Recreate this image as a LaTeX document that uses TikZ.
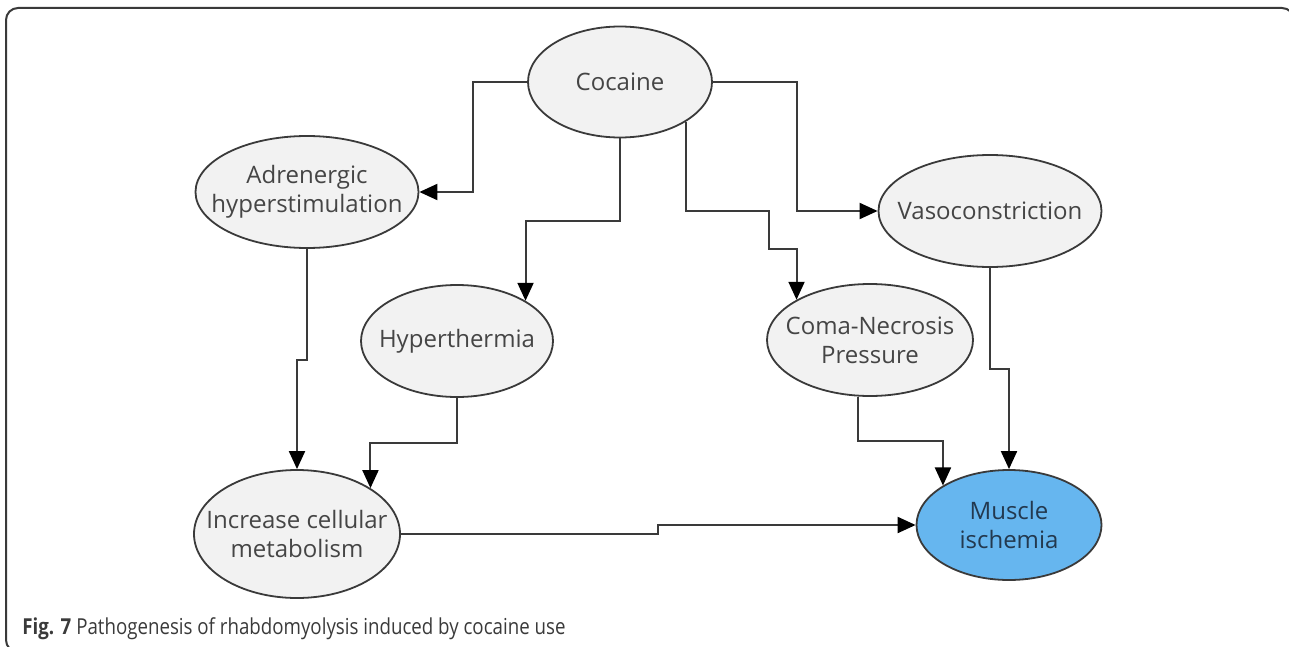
\documentclass[tikz,border=0pt]{standalone}
\usepackage{fontspec}
\setmainfont{Open Sans}
\newfontfamily\capfont[FakeStretch=0.85]{Open Sans}
\usetikzlibrary{arrows.meta,shapes.geometric}
\definecolor{ink}{HTML}{3A3A3A}
\definecolor{txt}{HTML}{454545}
\definecolor{pale}{HTML}{F2F2F2}
\definecolor{sky}{HTML}{66B6EF}
\definecolor{navy}{HTML}{23394F}
\newcommand{\midline}[1]{\makebox[0pt]{#1}}
\tikzset{
  oval/.style={ellipse,draw=ink,line width=.9pt,fill=pale,inner sep=0pt,
    text=txt,align=center,font=\fontsize{12}{14.5}\selectfont},
  link/.style={draw=ink,line width=1pt,-{Triangle[length=9pt,width=8pt,color=black]}}
}

\begin{document}
\begin{tikzpicture}[x=.5pt,y=-.5pt]
  \useasboundingbox (0,0) rectangle (1289,647);
  % frame, partly cut at the right and bottom edges
  \draw[ink,line width=1pt,rounded corners=6pt] (6,8) rectangle (1294,652);

  % causes and effects
  \node[oval,minimum width=92pt,minimum height=55.5pt] (coc) at (620,82) {\midline{Cocaine}};
  \node[oval,minimum width=111.5pt,minimum height=56pt] (adr) at (307,192) {\midline{Adrenergic}\\\midline{hyperstimulation}};
  \node[oval,minimum width=96pt,minimum height=56pt] (hyp) at (457,341) {\midline{Hyperthermia}};
  \node[oval,minimum width=103pt,minimum height=56pt] (coma) at (870,340) {\midline{Coma-Necrosis}\\\midline{Pressure}};
  \node[oval,minimum width=111.5pt,minimum height=56pt] (vaso) at (990,211) {\midline{Vasoconstriction}};
  \node[oval,minimum width=103pt,minimum height=64pt] (incr) at (297,534) {\midline{Increase cellular}\\\midline{metabolism}};
  \node[oval,fill=sky,text=navy,minimum width=92.5pt,minimum height=55pt] (mus) at (1009,525) {\midline{Muscle}\\\midline{ischemia}};

  % connectors from cocaine
  \draw[link] (coc.west) -- ++(-54,0) |- (adr.east);
  \draw[link] (coc.south) -- ++(0,83) -| (hyp.north east);
  \draw[link] (coc.south east) -- ++(0,89) -- ++(83,0) -- ++(0,38) -| (coma.north west);
  \draw[link] (coc.east) -- ++(84,0) |- (vaso.west);

  % connectors to the lower row
  \draw[link] (adr.south) -- ++(0,111) -| (incr.north);
  \draw[link] (hyp.south) -- ++(0,45) -| (incr.north east);
  \draw[link] ([xshift=-6pt]coma.south) -- ++(0,44) -| (mus.north west);
  \draw[link] (vaso.south) -- ++(0,101) -| (mus.north);
  \draw[link] (incr.east) -- ++(257,0) |- (mus.west);

  \node[anchor=base west,inner sep=0pt,text=ink,font=\capfont\fontsize{11}{13}\selectfont] (cap) at (22,634)
    {\textbf{Fig. 7} Pathogenesis of rhabdomyolysis induced by cocaine use};
\end{tikzpicture}
\end{document}
